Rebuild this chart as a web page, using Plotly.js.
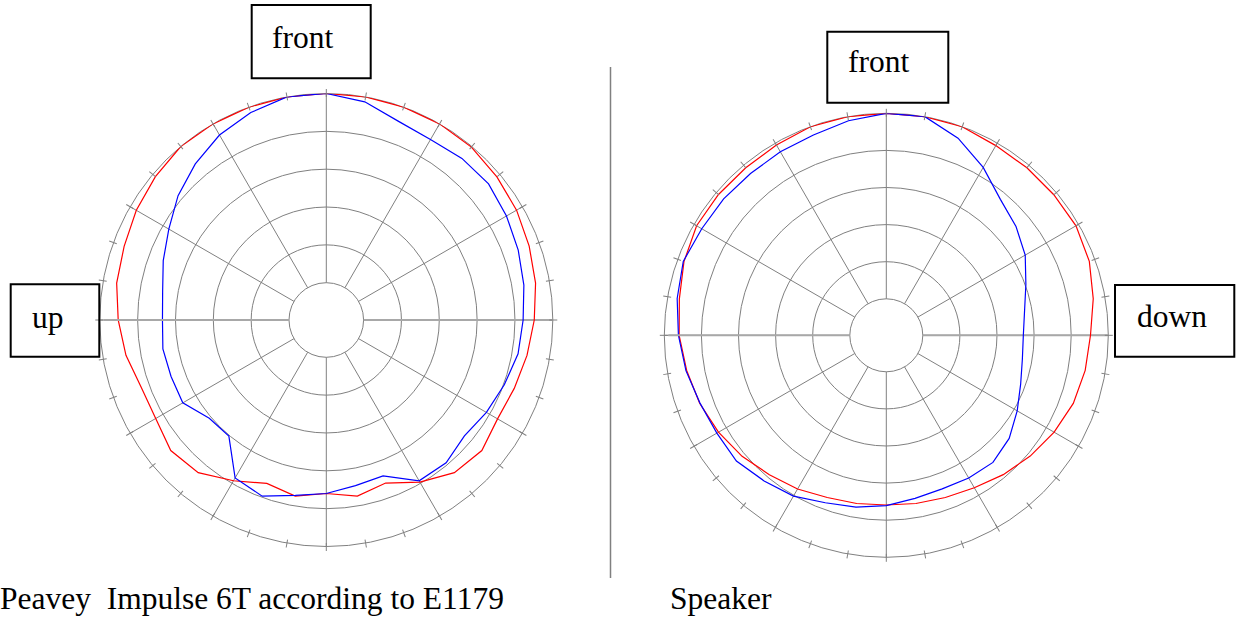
<!DOCTYPE html>
<html>
<head>
<meta charset="utf-8">
<script src="https://cdn.plot.ly/plotly-3.0.1.min.js"></script>
<style>
  html, body { margin: 0; padding: 0; background: #ffffff; }
  #chart { width: 1236px; height: 619px; }
</style>
</head>
<body>
<div id="chart"></div>
<script>
// ---------------- data (dB, angle clockwise from "front") ----------------
const angles = [0, 10, 20, 30, 40, 50, 60, 70, 80, 90, 100, 110, 120, 130, 140, 150, 160, 170,
                180, 190, 200, 210, 220, 230, 240, 250, 260, 270, 280, 290, 300, 310, 320, 330, 340, 350];

// Peavey Impulse 6T according to E1179
const peaveyRed = [0, 0, 0, 0, -0.1, -0.5, -0.9, -1.4, -1.85, -2.45, -3.0, -3.5, -3.8, -3.1, -3.6, -5.2, -7.0, -6.3,
                   -7.0, -6.3, -6.95, -5.4, -3.6, -3.1, -3.9, -3.9, -3.05, -2.43, -1.8, -1.5, -0.94, -0.45, 0, 0, 0, 0];
const peaveyBlue = [0, -0.65, -2.0, -2.4, -2.05, -1.94, -2.44, -2.94, -3.42, -3.92, -4.2, -4.9, -5.5, -6.1, -5.3, -5.4, -8.0, -7.7,
                    -7.0, -6.4, -5.16, -5.83, -9.9, -9.74, -8.03, -8.1, -8.0, -8.28, -7.97, -7.0, -5.9, -4.36, -3.0, -1.7, -0.76, 0];

// Speaker
const speakerRed = [0, 0, 0, -0.4, -0.44, -0.45, -0.4, -0.8, -1.6, -2.4, -2.7, -3.1, -3.8, -4.6, -5.4, -6.2, -6.65, -6.9,
                    -7.05, -6.9, -6.65, -6.0, -5.4, -4.55, -3.8, -3.15, -2.6, -2.0, -1.6, -0.9, -0.4, -0.4, -0.45, -0.3, 0, 0];
const speakerBlue = [0, 0, -1.65, -3.8, -6.0, -7.1, -8.3, -9.9, -11.0, -11.45, -11.3, -10.65, -9.55, -8.3, -7.56, -7.7, -7.9, -7.6,
                     -6.96, -6.4, -5.9, -4.9, -4.3, -3.55, -3.55, -3.2, -2.5, -1.9, -1.3, -0.8, -1.2, -1.3, -1.45, -1.36, -1.2, -0.56];

const radialRange = [-25, 0];
const ringValues = [-20, -15, -10, -5];

const leftTitle = "Peavey\u00A0 Impulse 6T according to E1179";
const rightTitle = "Speaker";
const leftLabels = ["front", "up"];
const rightLabels = ["front", "down"];

// ---------------- layout helpers ----------------
const W = 1236, H = 619;
const px = x => x / W;
const py = y => 1 - y / H;
const GRID = "#808080";
const FONT = { family: "Liberation Serif", size: 31.5, color: "#000000" };

const LEFT = { cx: 326.3, cy: 320, R: 226.5, hole: 37.3 };
const RIGHT = { cx: 886.3, cy: 335.3, R: 222, hole: 36.5 };

function dom(c, inset) {
  return {
    x: [px(c.cx - c.R + inset), px(c.cx + c.R - inset)],
    y: [py(c.cy + c.R - inset), py(c.cy - c.R + inset)]
  };
}

function mainPolar(c) {
  return {
    domain: dom(c, 0),
    hole: c.hole / c.R,
    bgcolor: "#ffffff",
    radialaxis: {
      range: radialRange, tickmode: "array", tickvals: ringValues,
      showticklabels: false, ticks: "", gridcolor: GRID, gridwidth: 1,
      showline: true, linecolor: "#a8a8a8", linewidth: 2, angle: 0, layer: "below traces"
    },
    angularaxis: {
      rotation: 90, direction: "clockwise", tickmode: "linear", tick0: 0, dtick: 30,
      showticklabels: false, ticks: "", gridcolor: GRID, gridwidth: 1,
      showline: true, linecolor: GRID, linewidth: 1, layer: "below traces"
    }
  };
}

function tickPolar(c) {
  const inset = 4;
  return {
    domain: dom(c, inset),
    hole: c.hole / (c.R - inset),
    bgcolor: "rgba(0,0,0,0)",
    radialaxis: {
      range: radialRange, showgrid: false, showticklabels: false, ticks: "",
      showline: true, linecolor: "#a8a8a8", linewidth: 2, angle: 180, layer: "below traces"
    },
    angularaxis: {
      rotation: 90, direction: "clockwise", tickmode: "linear", tick0: 0, dtick: 10,
      showticklabels: false, ticks: "outside", ticklen: 8, tickwidth: 1, tickcolor: GRID,
      showgrid: false, showline: false, layer: "below traces"
    }
  };
}

function closed(arr) { return arr.concat([arr[0]]); }
const thetaClosed = closed(angles);

function line(r, color, subplot) {
  return {
    type: "scatterpolar", mode: "lines", subplot: subplot,
    r: closed(r), theta: thetaClosed,
    line: { color: color, width: 1.2 }, hoverinfo: "skip", showlegend: false
  };
}
function empty(subplot) {
  return { type: "scatterpolar", mode: "lines", subplot: subplot, r: [], theta: [], hoverinfo: "skip", showlegend: false };
}

const data = [
  line(peaveyRed, "#ff0000", "polar"),
  line(peaveyBlue, "#0000ff", "polar"),
  line(speakerRed, "#ff0000", "polar2"),
  line(speakerBlue, "#0000ff", "polar2"),
  empty("polar3"),
  empty("polar4")
];

function box(x0, y0, x1, y1) {
  return { type: "rect", xref: "paper", yref: "paper", x0: px(x0), x1: px(x1), y0: py(y1), y1: py(y0),
           line: { color: "#000000", width: 2 }, fillcolor: "rgba(0,0,0,0)" };
}
function label(text, x, y) {
  return { text: text, xref: "paper", yref: "paper", x: px(x), y: py(y), xanchor: "left", yanchor: "middle",
           showarrow: false, font: FONT, borderpad: 0 };
}

const layout = {
  width: W, height: H,
  margin: { l: 0, r: 0, t: 0, b: 0 },
  paper_bgcolor: "#ffffff",
  font: FONT,
  showlegend: false,
  polar: mainPolar(LEFT),
  polar2: mainPolar(RIGHT),
  polar3: tickPolar(LEFT),
  polar4: tickPolar(RIGHT),
  shapes: [
    box(251.7, 5, 370.7, 78.3),
    box(10.7, 284.3, 99.3, 356.7),
    box(827.3, 31.7, 948.3, 102.7),
    box(1115, 285, 1234.3, 356.7),
    { type: "line", xref: "paper", yref: "paper", x0: px(610.5), x1: px(610.5), y0: py(67), y1: py(578),
      line: { color: GRID, width: 1.5 } }
  ],
  annotations: [
    label(leftLabels[0], 271, 37),
    label(leftLabels[1], 30.5, 317),
    label(rightLabels[0], 847, 62),
    label(rightLabels[1], 1135.5, 316.5),
    label(leftTitle, -1, 598.5),
    label(rightTitle, 669, 598.5)
  ]
};

Plotly.newPlot("chart", data, layout, { staticPlot: true, displayModeBar: false });
</script>
</body>
</html>
